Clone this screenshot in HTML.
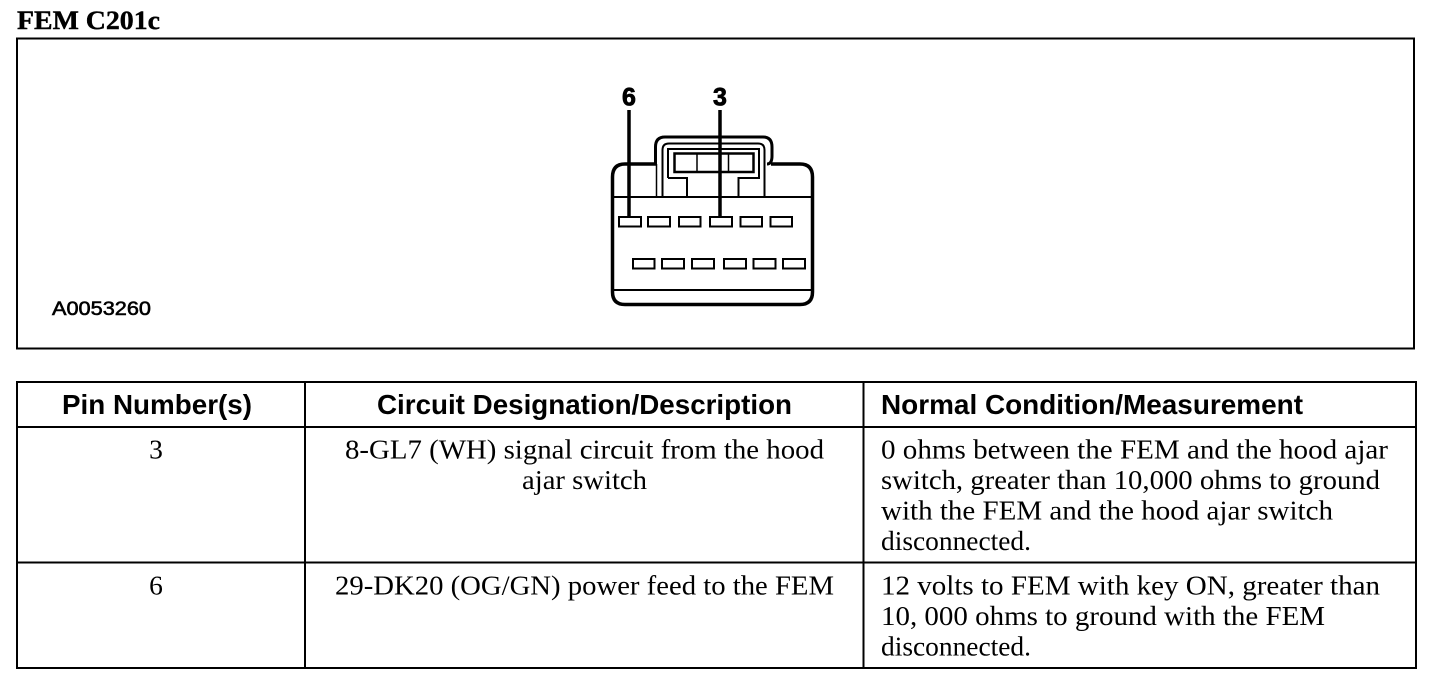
<!DOCTYPE html>
<html>
<head>
<meta charset="utf-8">
<style>
html,body{margin:0;padding:0;background:#fff;}
svg{display:block;}
.t{font-family:"Liberation Serif",serif;font-size:27.5px;fill:#000;}
.h{font-family:"Liberation Sans",sans-serif;font-size:27.5px;font-weight:bold;fill:#000;}
</style>
</head>
<body>
<svg width="1440" height="684" viewBox="0 0 1440 684" xmlns="http://www.w3.org/2000/svg">
<rect width="1440" height="684" fill="#fff"/>
<text x="17" y="29" textLength="143" lengthAdjust="spacingAndGlyphs" style="font-family:'Liberation Serif',serif;font-size:26px;font-weight:bold;stroke:#000;stroke-width:.4">FEM C201c</text>
<rect x="17" y="38.5" width="1397" height="310" fill="none" stroke="#000" stroke-width="2"/>
<text x="52" y="315" textLength="99" lengthAdjust="spacingAndGlyphs" style="font-family:'Liberation Sans',sans-serif;font-size:19.5px;stroke:#000;stroke-width:.6">A0053260</text>

<!-- connector -->
<g fill="none" stroke="#000">
<path d="M655.500 164 V147 Q655.500 137 665 137 H763 Q772 137 772 147 V156 Q772 164 767 164" stroke-width="3"/>
<path d="M656 164 H625 Q612.500 164 612.500 177 V292 Q612.500 304.500 625 304.500 H800 Q812.500 304.500 812.500 292 V177 Q812.500 164 800 164 H771" stroke-width="3.500"/>
<path d="M656.500 164 V197" stroke-width="1.500"/>
<path d="M662.500 197 V150 Q662.500 143.500 669 143.500 H758 Q764.500 143.500 764.500 150 V197" stroke-width="2"/>
<path d="M668 178 V149 H759 V178 H738.500 V197 M668 178 H687 V197" stroke-width="2"/>
<rect x="674.500" y="153.500" width="79" height="18.500" stroke-width="2.500"/>
<path d="M697 153 V172 M728.500 153 V172" stroke-width="1.500"/>
<path d="M612 197 H812" stroke-width="2"/>
<path d="M612 290 H812" stroke-width="2"/>
<g stroke-width="2">
<rect x="619" y="217" width="22" height="9.500"/>
<rect x="648" y="217" width="22" height="9.500"/>
<rect x="679" y="217" width="21.500" height="9.500"/>
<rect x="710" y="217" width="22" height="9.500"/>
<rect x="740.500" y="217" width="21.500" height="9.500"/>
<rect x="770.500" y="217" width="21.500" height="9.500"/>
<rect x="633" y="259" width="21.500" height="9.500"/>
<rect x="662" y="259" width="22" height="9.500"/>
<rect x="692" y="259" width="22" height="9.500"/>
<rect x="724" y="259" width="22" height="9.500"/>
<rect x="753.500" y="259" width="22" height="9.500"/>
<rect x="783" y="259" width="22" height="9.500"/>
</g>
<path d="M629 110 V217 M720 110 V217" stroke-width="3.500"/>
</g>
<text x="629" y="105.500" text-anchor="middle" style="font-family:'Liberation Sans',sans-serif;font-size:25px;font-weight:bold;stroke:#000;stroke-width:.8">6</text>
<text x="720" y="105.500" text-anchor="middle" style="font-family:'Liberation Sans',sans-serif;font-size:25px;font-weight:bold;stroke:#000;stroke-width:.8">3</text>

<!-- table -->
<g fill="none" stroke="#000" stroke-width="2">
<rect x="17" y="382" width="1399" height="286"/>
<path d="M305 382 V668 M863.500 382 V668 M17 427 H1416 M17 562.500 H1416"/>
</g>
<text class="h" x="62" y="414" textLength="190" lengthAdjust="spacingAndGlyphs">Pin Number(s)</text>
<text class="h" x="377" y="414" textLength="415" lengthAdjust="spacingAndGlyphs">Circuit Designation/Description</text>
<text class="h" x="881" y="414" textLength="422" lengthAdjust="spacingAndGlyphs">Normal Condition/Measurement</text>

<text class="t" x="156" y="458.500" text-anchor="middle">3</text>
<text class="t" x="345" y="458.500" textLength="479" lengthAdjust="spacingAndGlyphs">8-GL7 (WH) signal circuit from the hood</text>
<text class="t" x="522" y="489" textLength="125" lengthAdjust="spacingAndGlyphs">ajar switch</text>
<text class="t" x="881" y="458.500" textLength="507" lengthAdjust="spacingAndGlyphs">0 ohms between the FEM and the hood ajar</text>
<text class="t" x="881" y="489" textLength="499" lengthAdjust="spacingAndGlyphs">switch, greater than 10,000 ohms to ground</text>
<text class="t" x="881" y="519.500" textLength="452" lengthAdjust="spacingAndGlyphs">with the FEM and the hood ajar switch</text>
<text class="t" x="881" y="550" textLength="150" lengthAdjust="spacingAndGlyphs">disconnected.</text>

<text class="t" x="156" y="594.500" text-anchor="middle">6</text>
<text class="t" x="335" y="594.500" textLength="499" lengthAdjust="spacingAndGlyphs">29-DK20 (OG/GN) power feed to the FEM</text>
<text class="t" x="881" y="594.500" textLength="499" lengthAdjust="spacingAndGlyphs">12 volts to FEM with key ON, greater than</text>
<text class="t" x="881" y="625" textLength="444" lengthAdjust="spacingAndGlyphs">10, 000 ohms to ground with the FEM</text>
<text class="t" x="881" y="655.500" textLength="150" lengthAdjust="spacingAndGlyphs">disconnected.</text>
</svg>
</body>
</html>
